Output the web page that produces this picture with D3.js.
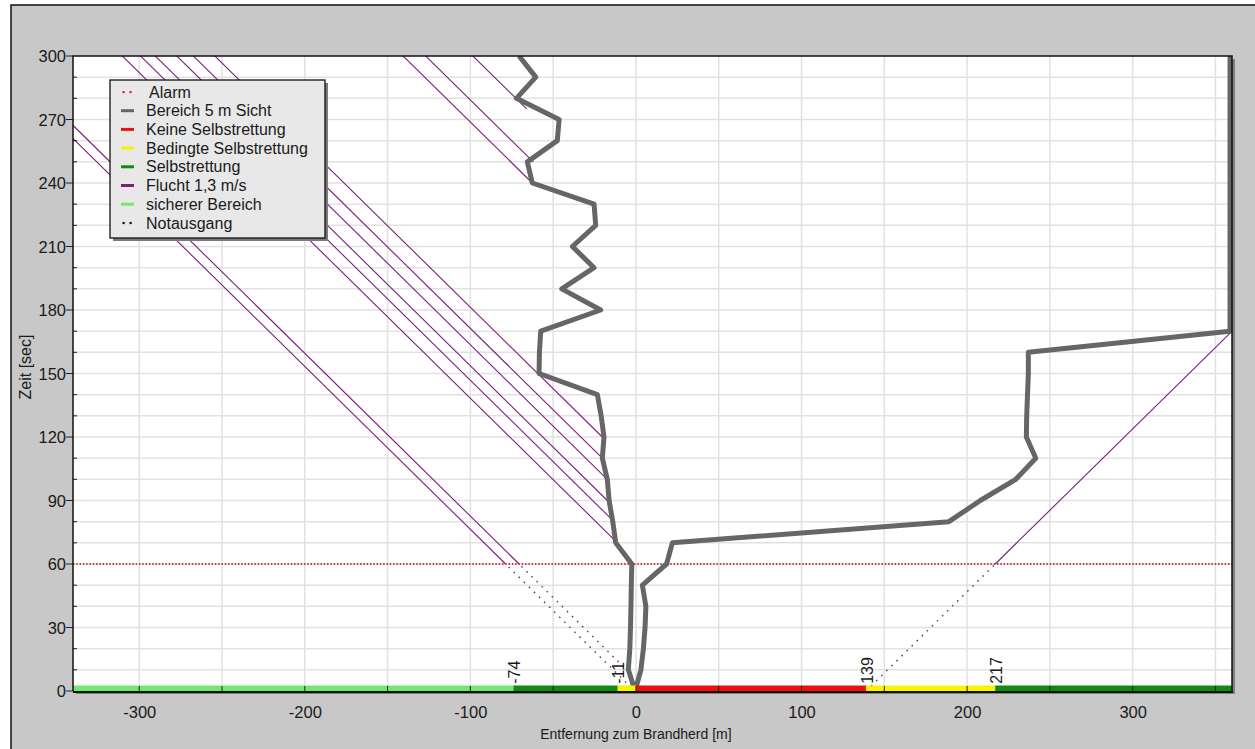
<!DOCTYPE html>
<html>
<head>
<meta charset="utf-8">
<script src="https://cdn.jsdelivr.net/npm/d3@7"></script>
<style>
  body { margin: 0; background: #ffffff; }
  text { font-family: "Liberation Sans", Arial, sans-serif; fill: #1a1a1a; }
</style>
</head>
<body>
<svg id="chart" width="1255" height="749"></svg>
<script>
// ---- data -------------------------------------------------------------
// sample times (s) of the 5 m visibility boundary
const times = [0, 10, 20, 30, 40, 50, 60, 70, 80, 90, 100, 110, 120, 130, 140, 150,
               160, 170, 180, 190, 200, 210, 220, 230, 240, 250, 260, 270, 280, 290, 300];
// boundary on the left side of the fire (m)
const visLeft = [-0.5, -4.6, -3.7, -3.3, -3, -2.8, -2.5, -12.2, -14, -16.2, -17.3, -20.3, -19.3, -21, -23.3, -58.5,
                 -58.3, -57.5, -21.3, -44.8, -25.3, -38.4, -24.3, -25.3, -62.6, -65.6, -47.5, -46.4, -72.2, -60.5, -70.6];
// boundary on the right side of the fire (m)
const visRight = [0, 3, 4.5, 5.5, 6, 3.9, 18.5, 22, 189, 208, 229.4, 241.5, 235.8, 236, 236.5, 237,
                  237, 358.8, 358.8, 358.8, 358.8, 358.8, 358.8, 358.8, 358.8, 358.8, 358.8, 358.8, 358.8, 358.8, 358.8];

const alarmTime = 60;          // s
const fleeSpeed = 1.3;         // m/s

// people leaving the smoke front to the left (start point on the boundary)
const fleeStartX = [-11.2, -13.2, -17.3, -17.3, -20.3, -20.3, -62.6, -62, -66];
const fleeStartT = [70, 80, 90, 100, 110, 120, 240, 250, 275];

// people fleeing left after the alarm: position at alarm time, start of the walk before it
const alarmFleeX = [-70.6, -78.7];
const alarmFleeFromT = [9, 4];

// route to the emergency exit on the right: starting position at t = 0
const exitRouteStartX = 139;

// zones along the tunnel (m)
const zoneStart = [-340, -74, -11, 0, 139, 217];
const zoneEnd   = [-74, -11, 0, 139, 217, 360];
const zoneKind  = ["sicher", "selbst", "bedingt", "keine", "bedingt", "selbst"];
const zoneMarks = [-74, -11, 139, 217];

// axes
const xTickValues = [-300, -200, -100, 0, 100, 200, 300];
const yTickValues = [0, 30, 60, 90, 120, 150, 180, 210, 240, 270, 300];

// legend
const legendNames = ["Alarm", "Bereich 5 m Sicht", "Keine Selbstrettung", "Bedingte Selbstrettung",
                     "Selbstrettung", "Flucht 1,3 m/s", "sicherer Bereich", "Notausgang"];
const legendKeys  = ["alarm", "sicht", "keine", "bedingt", "selbst", "flucht", "sicher", "ausgang"];

// ---- styles -----------------------------------------------------------
const colors = {
  alarm: "#cc3030", sicht: "#666666", keine: "#ee1010", bedingt: "#f8f400",
  selbst: "#0f8c0f", flucht: "#7a1f7a", sicher: "#6fea6f", ausgang: "#111111"
};

// ---- layout -----------------------------------------------------------
const svg = d3.select("#chart");
const pL = 73, pR = 1232, pT = 56, pB = 691;

const x = d3.scaleLinear().domain([-340, 360]).range([pL, pR]);
const y = d3.scaleLinear().domain([0, 300]).range([pB, pT]);

// outer panel
svg.append("rect").attr("x", 11).attr("y", 5).attr("width", 1300).attr("height", 800)
  .attr("fill", "#c8c8c8").attr("stroke", "#111").attr("stroke-width", 1.5);

// plot area with drop shadow
svg.append("rect").attr("x", pL + 3).attr("y", pT + 3).attr("width", pR - pL).attr("height", pB - pT)
  .attr("fill", "#808080");
svg.append("rect").attr("x", pL).attr("y", pT).attr("width", pR - pL).attr("height", pB - pT)
  .attr("fill", "#ffffff");

svg.append("clipPath").attr("id", "plotClip").append("rect")
  .attr("x", pL).attr("y", pT).attr("width", pR - pL).attr("height", pB - pT);

// grid
const grid = svg.append("g").attr("stroke", "#e1e1e1").attr("stroke-width", 1.5);
grid.selectAll("line.v").data(d3.range(-300, 360, 50)).join("line").attr("class", "v")
  .attr("x1", d => x(d)).attr("x2", d => x(d)).attr("y1", pT).attr("y2", pB);
grid.selectAll("line.h").data(d3.range(10, 300, 10)).join("line").attr("class", "h")
  .attr("y1", d => y(d)).attr("y2", d => y(d)).attr("x1", pL).attr("x2", pR);

const plot = svg.append("g").attr("clip-path", "url(#plotClip)");

// flight paths
const segLine = d3.line().x(d => x(d[0])).y(d => y(d[1]));
const fleeGroup = plot.append("g").attr("fill", "none").attr("stroke", colors.flucht).attr("stroke-width", 1.1);
const tFar = 420;

fleeStartX.forEach((sx, i) => {
  const st = fleeStartT[i];
  fleeGroup.append("path").attr("d", segLine([[sx, st], [sx - fleeSpeed * (tFar - st), tFar]]));
});

alarmFleeX.forEach((ax, i) => {
  const t0 = alarmFleeFromT[i];
  fleeGroup.append("path").attr("d", segLine([[ax + fleeSpeed * (alarmTime - t0), t0], [ax, alarmTime]]))
    .attr("stroke-dasharray", "1.6,5.5").attr("stroke", "#5e3a5e").attr("stroke-width", 1.4);
  fleeGroup.append("path").attr("d", segLine([[ax, alarmTime], [ax - fleeSpeed * (tFar - alarmTime), tFar]]));
});

{
  const xAlarm = exitRouteStartX + fleeSpeed * alarmTime;
  fleeGroup.append("path").attr("d", segLine([[exitRouteStartX, 0], [xAlarm, alarmTime]]))
    .attr("stroke-dasharray", "1.6,5.5").attr("stroke", "#5e3a5e").attr("stroke-width", 1.4);
  fleeGroup.append("path").attr("d", segLine([[xAlarm, alarmTime], [xAlarm + fleeSpeed * (tFar - alarmTime), tFar]]));
}

// alarm time
plot.append("line").attr("x1", pL).attr("x2", pR).attr("y1", y(alarmTime)).attr("y2", y(alarmTime))
  .attr("stroke", colors.alarm).attr("stroke-width", 1.8).attr("stroke-dasharray", "1.4,1.9");

// 5 m visibility boundary
const visLine = d3.line().x(d => x(d[0])).y(d => y(d[1]));
const visPath = visLeft.map((v, i) => [v, times[i]]).reverse()
  .concat(visRight.map((v, i) => [v, times[i]]).slice(1));
plot.append("path").attr("d", visLine(visPath)).attr("fill", "none")
  .attr("stroke", colors.sicht).attr("stroke-width", 5).attr("stroke-linejoin", "round");

// zones along the floor
plot.selectAll("rect.zone").data(zoneStart).join("rect").attr("class", "zone")
  .attr("x", d => x(d)).attr("width", (d, i) => x(zoneEnd[i]) - x(d))
  .attr("y", y(2.6)).attr("height", y(0) - y(2.6))
  .attr("fill", (d, i) => colors[zoneKind[i]]);

// zone limits
svg.selectAll("text.mark").data(zoneMarks).join("text").attr("class", "mark")
  .attr("transform", d => `translate(${x(d) + 1},${y(3.4)}) rotate(-90)`)
  .attr("dy", "0.35em").attr("font-size", 16).attr("text-anchor", "start")
  .text(d => String(d));

// x ticks (inward)
svg.append("g").attr("stroke", "#222").attr("stroke-width", 1)
  .selectAll("line").data(d3.range(-300, 360, 50)).join("line")
  .attr("x1", d => x(d)).attr("x2", d => x(d)).attr("y1", pB).attr("y2", pB - 5);

// y ticks: majors outward, minors inward
svg.append("g").attr("stroke", "#222").attr("stroke-width", 1)
  .selectAll("line").data(d3.range(0, 301, 10)).join("line")
  .attr("y1", d => y(d)).attr("y2", d => y(d))
  .attr("x1", d => (d % 30 === 0 ? pL - 7 : pL)).attr("x2", d => (d % 30 === 0 ? pL : pL + 4));

// frame
svg.append("path")
  .attr("d", `M${pL},${pB} V${pT} H${pR} V${pB}`)
  .attr("fill", "none").attr("stroke", "#111").attr("stroke-width", 1.5);
svg.append("line").attr("x1", pL).attr("x2", pR + 1).attr("y1", pB + 1).attr("y2", pB + 1)
  .attr("stroke", "#111").attr("stroke-width", 2);

// axis labels
const xAxis = d3.axisBottom(x).tickValues(xTickValues).tickFormat(d => String(d)).tickSize(0).tickPadding(0);
const gx = svg.append("g").attr("transform", `translate(0,${pB})`).call(xAxis);
gx.select(".domain").remove();
gx.selectAll("text").attr("font-size", 16.5).attr("dy", null).attr("y", 27)
  .attr("font-family", "Liberation Sans, Arial, sans-serif").attr("fill", "#1a1a1a");

const yAxis = d3.axisLeft(y).tickValues(yTickValues).tickFormat(d => String(d)).tickSize(0).tickPadding(0);
const gy = svg.append("g").attr("transform", `translate(${pL},0)`).call(yAxis);
gy.select(".domain").remove();
gy.selectAll("text").attr("font-size", 16.5).attr("x", -7).attr("dy", "0.36em")
  .attr("font-family", "Liberation Sans, Arial, sans-serif").attr("fill", "#1a1a1a");

svg.append("text").attr("x", x(0)).attr("y", 739)
  .attr("text-anchor", "middle").attr("font-size", 14).text("Entfernung zum Brandherd [m]");
svg.append("text").attr("transform", `translate(31,367) rotate(-90)`)
  .attr("text-anchor", "middle").attr("font-size", 16).text("Zeit [sec]");

// legend
const lg = svg.append("g");
lg.append("rect").attr("x", 113).attr("y", 83).attr("width", 215).attr("height", 158).attr("fill", "#7a7a7a");
lg.append("rect").attr("x", 110).attr("y", 80).attr("width", 215).attr("height", 158)
  .attr("fill", "#e8e8e8").attr("stroke", "#111").attr("stroke-width", 1.3);
const rowStep = 18.7;
legendNames.forEach((name, i) => {
  const key = legendKeys[i];
  const cy = 92 + i * rowStep;
  if (key === "alarm" || key === "ausgang") {
    [123.5, 130.5].forEach(cx => lg.append("rect").attr("x", cx - 1).attr("y", cy - 1)
      .attr("width", 2.2).attr("height", 2.2).attr("fill", colors[key]));
  } else {
    lg.append("line").attr("x1", 121).attr("x2", 134).attr("y1", cy).attr("y2", cy)
      .attr("stroke", colors[key]).attr("stroke-width", 3);
  }
  lg.append("text").attr("x", key === "alarm" ? 149 : 146).attr("y", cy + 5.6)
    .attr("font-size", 16).text(name);
});
</script>
</body>
</html>
